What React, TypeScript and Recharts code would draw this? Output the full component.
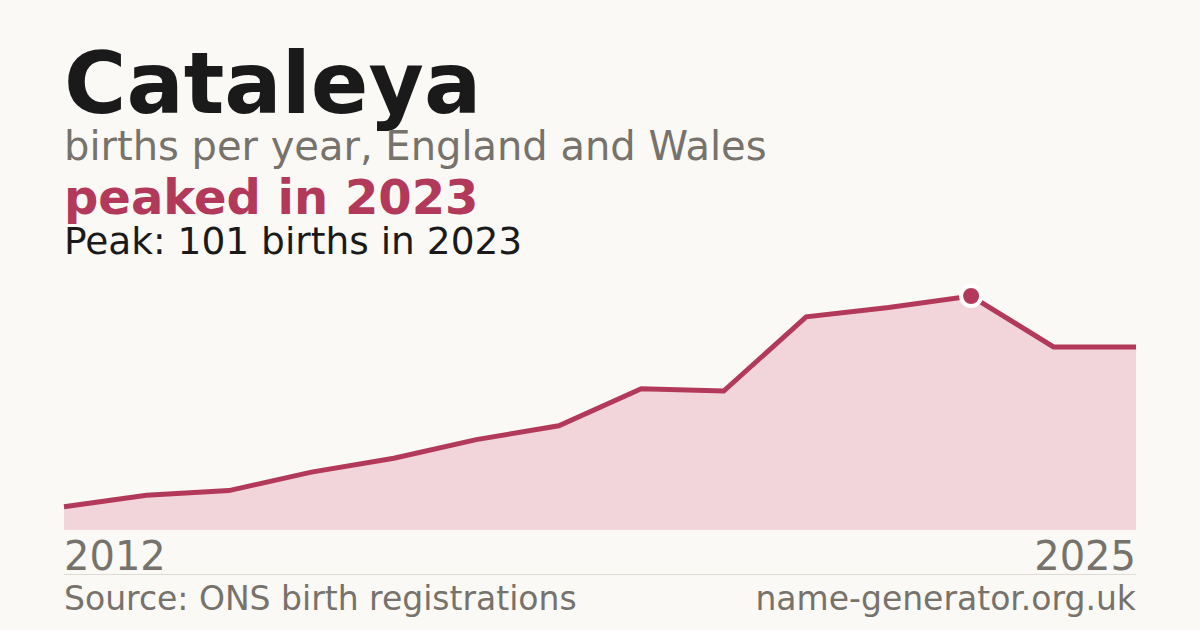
import React from "react";
import { AreaChart, Area, XAxis, YAxis, ReferenceDot } from "recharts";

// births per year
const years = ["2012", "2013", "2014", "2015", "2016", "2017", "2018", "2019", "2020", "2021", "2022", "2023", "2024", "2025"];
const births = [10, 15, 17, 25, 31, 39, 45, 61, 60, 92, 96, 101, 79, 79];
const edgeTicks = ["2012", "2025"];
const peakYear = "2023";
const peakValue = 101;

const data = years.map((year, i) => ({ year, births: births[i] }));

const BG = "#faf9f5";
const INK = "#1a1a1a";
const GREY = "#77726b";
const ACCENT = "#b3395a";
const FILL = "#f1d5db";
const FONT = "DejaVu Sans, sans-serif";

const EdgeTick = (props: any) => {
  const { x, payload, index } = props;
  return (
    <text
      x={x}
      y={570}
      textAnchor={index === 0 ? "start" : "end"}
      fontFamily={FONT}
      fontSize={40}
      fill={GREY}
    >
      {payload.value}
    </text>
  );
};

export default function App() {
  return (
    <div
      style={{
        position: "absolute",
        left: 0,
        top: 0,
        width: 1200,
        height: 630,
        background: BG,
        overflow: "hidden",
      }}
    >
      <AreaChart
        width={1200}
        height={630}
        data={data}
        margin={{ top: 296, right: 64, bottom: 70, left: 64 }}
      >
        <XAxis
          dataKey="year"
          ticks={edgeTicks}
          interval={0}
          axisLine={false}
          tickLine={false}
          height={30}
          tick={<EdgeTick />}
        />
        <YAxis hide domain={[0, peakValue]} />
        <Area
          type="linear"
          dataKey="births"
          stroke={ACCENT}
          strokeWidth={5}
          fill={FILL}
          fillOpacity={1}
          dot={false}
          activeDot={false}
          isAnimationActive={false}
        />
        <ReferenceDot
          x={peakYear}
          y={peakValue}
          r={10}
          fill={ACCENT}
          stroke="#ffffff"
          strokeWidth={4}
        />
      </AreaChart>
      <svg
        width={1200}
        height={630}
        style={{ position: "absolute", left: 0, top: 0, pointerEvents: "none" }}
      >
        <text x={64} y={113} fontFamily={FONT} fontWeight="bold" fontSize={85} fill={INK}>
          Cataleya
        </text>
        <text x={64} y={160} fontFamily={FONT} fontSize={40} fill={GREY}>
          births per year, England and Wales
        </text>
        <text x={64} y={214} fontFamily={FONT} fontWeight="bold" fontSize={48} fill={ACCENT}>
          peaked in 2023
        </text>
        <text x={64} y={254} fontFamily={FONT} fontSize={37.5} fill={INK}>
          Peak: 101 births in 2023
        </text>
        <line x1={64} x2={1136} y1={574.5} y2={574.5} stroke="#dedbd4" strokeWidth={1} />
        <text x={64} y={610} fontFamily={FONT} fontSize={33} fill={GREY}>
          Source: ONS birth registrations
        </text>
        <text x={1136} y={610} textAnchor="end" fontFamily={FONT} fontSize={33} fill={GREY}>
          name-generator.org.uk
        </text>
      </svg>
    </div>
  );
}
